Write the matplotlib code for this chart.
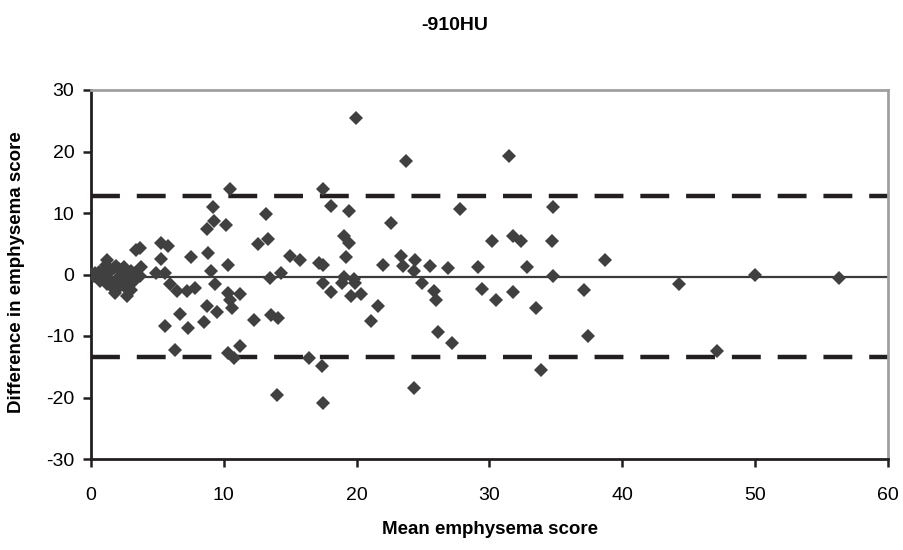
import matplotlib
matplotlib.use("Agg")
import matplotlib.pyplot as plt
from matplotlib import font_manager

# pick an Arial-like font
names = {f.name for f in font_manager.fontManager.ttflist}
font = "Liberation Sans" if "Liberation Sans" in names else "DejaVu Sans"
plt.rcParams["font.family"] = [font, "DejaVu Sans"]
plt.rcParams["axes.unicode_minus"] = False

# Bland-Altman data
mean_score = [0.0, 0.3, 0.5, 0.7, 0.9, 1.0, 1.2, 1.3, 1.5, 1.7, 1.7, 1.8, 1.9, 2.0,
              2.2, 2.4, 2.5, 2.7, 2.8, 3.0, 3.2, 3.4, 3.5, 3.7, 3.7, 3.8, 3.0, 2.2, 1.2,
              0.2, 0.6, 0.8, 1.1, 1.4, 1.6, 2.1, 2.3, 2.6, 2.9, 3.3, 1.9, 2.5,
              4.9, 5.3, 5.25, 5.6, 5.8, 5.95, 5.6, 6.3, 6.45, 6.7, 7.2, 7.3, 7.5, 7.8,
              8.5, 8.7, 8.7, 8.8, 9.0, 9.16, 9.29, 9.3, 9.5, 10.2, 10.3, 10.3, 10.3,
              10.5, 10.5, 10.6, 10.8, 11.2, 11.2, 12.3, 12.6, 13.2, 13.35, 13.5, 13.55,
              14.0, 14.1, 14.3, 15.0, 15.7, 16.4, 17.2, 17.5, 17.5, 17.4, 17.5, 17.5,
              18.1, 18.1, 18.9, 19.05, 19.05, 19.2, 19.4, 19.4, 19.6, 19.8, 19.9, 19.95,
              20.3, 21.1, 21.6, 22.0, 22.6, 23.3, 23.5, 23.7, 24.3, 24.3, 24.4, 24.9,
              25.5, 25.8, 26.0, 26.1, 26.85, 27.2, 27.8, 29.1, 29.4, 30.2, 30.5, 31.5,
              31.8, 31.8, 32.4, 32.85, 33.5, 33.9, 34.7, 34.8, 34.8, 37.1, 37.4, 38.7,
              44.3, 47.1, 50.0, 56.3]
difference = [0.1, 0.2, -0.3, -1.1, 0.6, -0.5, 2.4, 0.3, -1.0, 1.0, -2.4, -3.0, 1.35, -0.5,
              -1.9, -0.8, 0.2, -3.5, -1.5, 0.5, -1.1, 4.0, 0.0, 4.3, -0.3, 1.2, -2.5, 0.8, -1.5,
              -0.2, 0.4, -0.7, 1.6, 0.5, -1.8, 0.9, -1.2, -2.2, -0.6, 0.2, -2.0, 1.2,
              0.3, 5.1, 2.6, 0.3, 4.6, -1.6, -8.4, -12.2, -2.7, -6.5, -2.7, -8.7, 2.9, -2.2,
              -7.7, 7.4, -5.1, 3.5, 0.5, 11.0, 8.7, -1.6, -6.1, 8.0, 1.6, -3.0, -12.7,
              13.9, -4.1, -5.4, -13.5, -3.2, -11.6, -7.4, 4.9, 9.9, 5.8, -0.5, -6.6,
              -19.6, -7.0, 0.2, 3.0, 2.3, -13.5, 1.8, 1.6, 13.9, -14.9, -1.35, -20.9,
              11.2, -2.9, -1.35, 6.2, -0.4, 2.9, 5.1, 10.3, -3.5, -0.7, -1.35, 25.4,
              -3.1, -7.5, -5.1, 1.6, 8.4, 3.0, 1.35, 18.4, 0.5, -18.4, 2.3, -1.35,
              1.35, -2.7, -4.2, -9.35, 1.0, -11.2, 10.6, 1.25, -2.3, 5.4, -4.2, 19.3,
              6.2, -2.9, 5.4, 1.25, -5.5, -15.5, 5.4, 11.0, -0.3, -2.5, -10.0, 2.3,
              -1.6, -12.4, 0.0, -0.65]

mean_diff = -0.35
upper_loa = 12.7
lower_loa = -13.4

W, H = 904, 550
fig = plt.figure(figsize=(W / 100, H / 100), dpi=100)
ax = fig.add_axes([91 / W, 1 - 459 / H, (888 - 91) / W, (459 - 90) / H])

ax.axhline(mean_diff, color="#3a3a3a", lw=1.6, zorder=2)
for lim in (upper_loa, lower_loa):
    ax.axhline(lim, color="#231f20", lw=3.2, dashes=(6.5, 3.8), zorder=2)
ax.plot(mean_score, difference, "D", color="#404040", ms=7, mew=0, zorder=3)

ax.set_xlim(0, 60)
ax.set_ylim(-30, 30)
ax.set_xticks(range(0, 61, 10))
ax.set_yticks(range(-30, 31, 10))
ax.tick_params(direction="out", length=6, width=1.8, color="#231f20",
               labelsize=14, pad=6)
ax.tick_params(axis="x", pad=14)
for side in ("left", "bottom"):
    ax.spines[side].set_color("#231f20")
    ax.spines[side].set_linewidth(2)
for side in ("top", "right"):
    ax.spines[side].set_color("#a0a0a0")
    ax.spines[side].set_linewidth(2)

fig.text(455 / W, 1 - 26 / H, "-910HU", ha="center", va="center",
         fontsize=14, fontweight="bold")
fig.text(490 / W, 1 - 530 / H, "Mean emphysema score", ha="center", va="center",
         fontsize=13.5, fontweight="bold")
fig.text(17 / W, 1 - 272 / H, "Difference in emphysema score", ha="center",
         va="center", rotation=90, fontsize=13.5, fontweight="bold")

fig.savefig("out.png", dpi=100)
